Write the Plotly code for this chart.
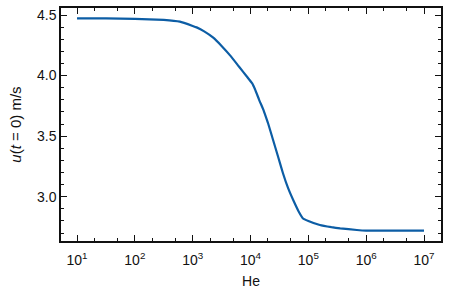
import plotly.graph_objects as go

# Data
he_values = [1e1, 3.16e1, 1e2, 3.16e2, 6.0e2, 1e3, 1.17e3, 1.58e3, 2.24e3, 3.16e3,
             4.47e3, 6.3e3, 8.7e3, 1.07e4, 1.2e4, 1.41e4, 1.66e4, 2.0e4, 2.45e4,
             3.0e4, 3.63e4, 4.47e4, 5.5e4, 6.76e4, 8.1e4, 1e5, 1.58e5, 2.51e5,
             3.55e5, 6.9e5, 1e6, 3.16e6, 1e7]
u_values = [4.473, 4.472, 4.469, 4.460, 4.445, 4.410, 4.398, 4.365, 4.315, 4.245,
            4.165, 4.075, 3.990, 3.935, 3.885, 3.80, 3.72, 3.61, 3.47,
            3.33, 3.195, 3.07, 2.97, 2.88, 2.82, 2.80, 2.766, 2.748,
            2.738, 2.725, 2.72, 2.72, 2.72]

x_tickvals = [1e1, 1e2, 1e3, 1e4, 1e5, 1e6, 1e7]
x_ticktext = ["10<sup>1</sup>", "10<sup>2</sup>", "10<sup>3</sup>", "10<sup>4</sup>",
              "10<sup>5</sup>", "10<sup>6</sup>", "10<sup>7</sup>"]
y_tickvals = [3.0, 3.5, 4.0, 4.5]
y_ticktext = ["3.0", "3.5", "4.0", "4.5"]

fig = go.Figure()
fig.add_trace(go.Scatter(x=he_values, y=u_values, mode="lines",
                         line=dict(color="#0C5DA5", width=2.2, shape="spline", smoothing=0.3),
                         showlegend=False, hoverinfo="skip"))

axis_common = dict(showline=True, linecolor="#111", linewidth=1.5, mirror="ticks",
                   ticks="inside", tickcolor="#111", tickwidth=1.1, ticklen=6,
                   showgrid=False, zeroline=False, automargin=False)

fig.update_xaxes(type="log", range=[0.723, 7.294], tickmode="array",
                 tickvals=x_tickvals, ticktext=x_ticktext,
                 minor=dict(ticks="inside", ticklen=3, tickcolor="#111", tickwidth=1, showgrid=False),
                 title=dict(text="He", font=dict(size=14), standoff=10),
                 ticklabelstandoff=5,
                 tickfont=dict(size=14), **axis_common)
fig.update_yaxes(range=[2.634, 4.558], tickmode="array",
                 tickvals=y_tickvals, ticktext=y_ticktext,
                 minor=dict(ticks="inside", ticklen=3, tickcolor="#111", tickwidth=1, dtick=0.1, showgrid=False),
                 title=dict(text="<i>u</i>(<i>t</i> = 0) m/s", font=dict(size=15), standoff=12),
                 tickfont=dict(size=14), **axis_common)

fig.update_layout(width=449, height=294, margin=dict(l=61, r=8, t=8, b=53),
                  plot_bgcolor="white", paper_bgcolor="white",
                  font=dict(family="Liberation Sans, Arial, sans-serif", color="#111"))

fig.write_html("out.html", config={"displayModeBar": False},
               post_script="document.body.style.margin='0';document.documentElement.style.overflow='hidden';")
